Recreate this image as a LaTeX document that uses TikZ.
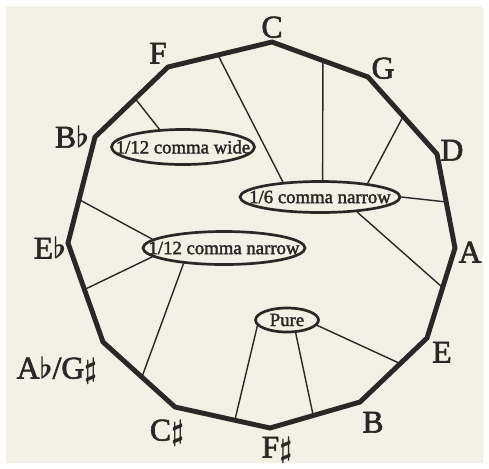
\documentclass[tikz,border=0pt]{standalone}
\usepackage{fontspec}
\setmainfont{Liberation Serif}
\newfontfamily\heavy{Liberation Serif}[UprightFeatures={FakeBold=2}]
\usepackage{xcolor}
\usepackage{tikz}
\usetikzlibrary{shapes.geometric, calc}

\definecolor{paper}{HTML}{F3F0E6}
\definecolor{ink}{HTML}{2A2826}
\newcommand{\tight}[1]{\makebox[0pt]{#1}}

\begin{document}
\begin{tikzpicture}[
    x=0.03cm, y=-0.03cm,
    tone/.style={text=ink, font=\heavy\boldmath\fontsize{27}{27}\selectfont, inner sep=0pt, text height=18pt, text depth=0pt},
    band/.style={ellipse, draw=ink, line width=2.3pt, text=ink, font=\heavy\fontsize{16}{16}\selectfont, inner sep=0pt},
    rim/.style={draw=ink, line width=4.2pt, line join=miter},
    spoke/.style={draw=ink, line width=1.2pt}
]

% page
\useasboundingbox (0,0) rectangle (489,468);
\fill[white] (0,0) rectangle (489,468);
\fill[paper] (6,6) rectangle (483,463);

% corners of the circle of fifths
\coordinate (C) at (272,42);
\coordinate (G) at (368,77);
\coordinate (D) at (437,154);
\coordinate (A) at (455,248);
\coordinate (E) at (427,338);
\coordinate (B) at (360,402);
\coordinate (Fs) at (270,428);
\coordinate (Cs) at (175,407);
\coordinate (Ab) at (103,342);
\coordinate (Eb) at (68,243);
\coordinate (Bb) at (95,137);
\coordinate (F) at (168,67);

\draw [rim] (C) -- (G) -- (D) -- (A) -- (E) -- (B) -- (Fs) -- (Cs) -- (Ab) -- (Eb) -- (Bb) -- (F) -- cycle;

% note names
\node (lC) [tone] at (272,27) {C};
\node (lG) [tone] at (383,68) {G};
\node (lD) [tone] at (452,150) {D};
\node (lA) [tone] at (470,252) {A};
\node (lE) [tone] at (442,352) {E};
\node (lB) [tone] at (373,422) {B};
\node (lFs) [tone] at (277,447) {F$\sharp$};
\node (lCs) [tone] at (167,430) {C$\sharp$};
\node (lAb) [tone] at (57,368) {A$\flat$/G$\sharp$};
\node (lEb) [tone] at (50,248) {E$\flat$};
\node (lBb) [tone] at (72,137) {B$\flat$};
\node (lF) [tone] at (158,53) {F};

% temperings
\node (wide) [band, minimum width=4.29cm, minimum height=1.05cm] at (183,147) {\tight{1/12 comma wide}};
\node (sixth) [band, minimum width=4.8cm, minimum height=0.93cm] at (320,197) {\tight{1/6 comma narrow}};
\node (narrow) [band, minimum width=4.86cm, minimum height=0.99cm] at (224,248) {\tight{1/12 comma narrow}};
\node (pure) [band, minimum width=1.89cm, minimum height=0.72cm] at (287,320) {\tight{Pure}};

% points on the fifths
\coordinate (fbb) at ($(F)!0.45!(Bb)$);
\coordinate (fc) at ($(F)!0.48!(C)$);
\coordinate (cg) at ($(C)!0.53!(G)$);
\coordinate (gd) at ($(G)!0.51!(D)$);
\coordinate (da) at ($(D)!0.51!(A)$);
\coordinate (ae) at ($(A)!0.44!(E)$);
\coordinate (eb) at ($(E)!0.40!(B)$);
\coordinate (bfs) at ($(B)!0.52!(Fs)$);
\coordinate (fscs) at ($(Fs)!0.37!(Cs)$);
\coordinate (csab) at ($(Cs)!0.46!(Ab)$);
\coordinate (abeb) at ($(Ab)!0.53!(Eb)$);
\coordinate (ebbb) at ($(Eb)!0.41!(Bb)$);

\draw [spoke] (wide.143) -- (fbb);
\draw [spoke] (sixth.158) -- (fc);
\draw [spoke] (sixth.81) -- (cg);
\draw [spoke] (sixth.16) -- (gd);
\draw [spoke] (sixth.0) -- (da);
\draw [spoke] (sixth.338) -- (ae);
\draw [spoke] (narrow.173) -- (ebbb);
\draw [spoke] (narrow.187) -- (abeb);
\draw [spoke] (narrow.201) -- (csab);
\draw [spoke] (pure.191) -- (fscs);
\draw [spoke] (pure.304) -- (bfs);
\draw [spoke] (pure.350) -- (eb);

\end{tikzpicture}
\end{document}
